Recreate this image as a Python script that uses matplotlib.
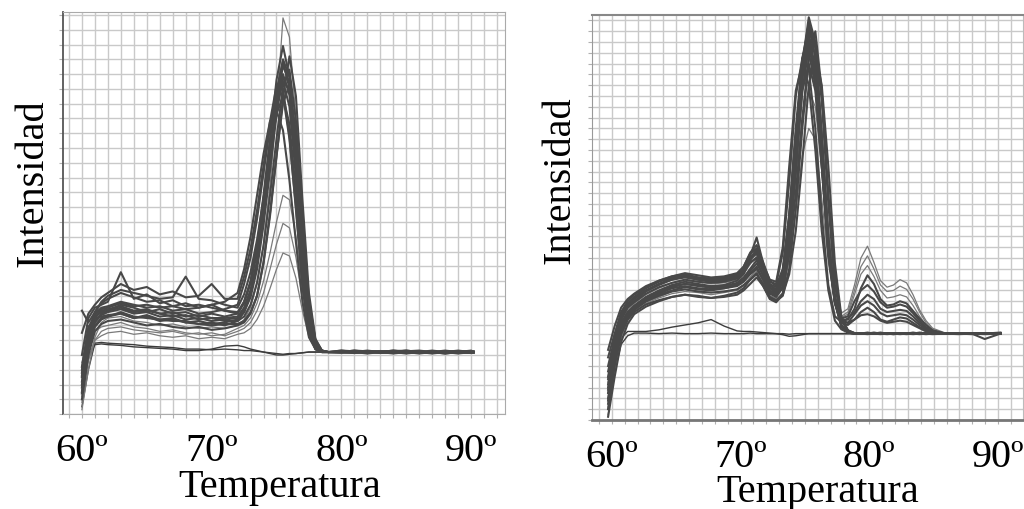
import matplotlib
matplotlib.use("Agg")
import matplotlib.pyplot as plt
from matplotlib.ticker import MultipleLocator, FixedLocator

plt.rcParams['font.family'] = ['Liberation Serif', 'DejaVu Serif']

# ---- left panel: temperatures (ºC) and curves (intensity, grid units) ----
temps_left = [60, 60.5, 61, 61.5, 62, 63, 64, 65, 66, 67, 68, 69, 70, 71,
              72, 72.5, 73, 73.5, 74, 74.5, 75, 75.5, 76, 76.5, 77, 77.5, 78, 78.5, 79,
              80, 81, 82, 83, 84, 85, 86, 87, 88, 89, 90, 90.2]

left_a = [1.5, 4.8, 6.2, 6.7, 6.9, 7.1, 6.8, 6.9, 6.6, 6.7, 6.4, 6.5, 6.3, 6.4,
          6.5, 7.1, 8.3, 10.3, 13.3, 16.9, 20.6, 23.0, 21.6, 17.0, 11.0, 6.8, 4.7, 4.25, 4.2,
          4.2, 4.25, 4.2, 4.15, 4.2, 4.2, 4.15, 4.2, 4.1, 4.2, 4.15, 4.2]
left_b = [3.0, 5.8, 6.8, 7.2, 7.3, 7.6, 7.4, 7.2, 7.3, 7.0, 7.1, 6.8, 6.9, 7.1,
          7.4, 8.8, 10.6, 13.2, 16.3, 19.4, 21.9, 21.6, 18.6, 14.0, 8.8, 5.6, 4.4, 4.2, 4.2,
          4.3, 4.2, 4.25, 4.2, 4.3, 4.2, 4.2, 4.1, 4.2, 4.25, 4.2, 4.15]
left_c = [0.3, 3.0, 5.2, 6.2, 6.5, 6.6, 6.3, 6.2, 6.0, 6.1, 5.9, 5.8, 5.9, 5.8,
          6.0, 6.4, 7.2, 8.8, 11.5, 15.5, 20.5, 26.8, 25.5, 20.0, 12.8, 7.2, 4.8, 4.3, 4.2,
          4.15, 4.2, 4.2, 4.3, 4.2, 4.1, 4.2, 4.2, 4.25, 4.15, 4.2, 4.2]
left_d = [2.2, 5.5, 6.9, 7.5, 7.8, 8.2, 7.9, 7.6, 7.7, 7.3, 7.5, 7.2, 7.4, 7.0,
          6.8, 7.5, 8.9, 11.2, 14.5, 18.5, 22.6, 24.9, 22.8, 17.5, 11.2, 6.6, 4.6, 4.25, 4.2,
          4.2, 4.3, 4.25, 4.2, 4.15, 4.25, 4.3, 4.2, 4.2, 4.1, 4.2, 4.25]
left_e = [4.0, 6.5, 7.2, 7.4, 7.6, 9.6, 7.8, 8.1, 7.5, 7.7, 7.3, 7.4, 7.2, 7.0,
          6.9, 7.6, 8.9, 10.9, 13.9, 17.6, 21.4, 24.0, 22.8, 18.0, 11.6, 7.0, 4.8, 4.3, 4.2,
          4.25, 4.2, 4.1, 4.2, 4.25, 4.2, 4.2, 4.3, 4.2, 4.2, 4.15, 4.2]
left_f = [1.0, 4.0, 5.6, 6.1, 6.3, 6.4, 6.2, 6.0, 6.1, 5.9, 5.8, 5.9, 5.7, 5.8,
          6.0, 6.2, 6.8, 8.0, 10.3, 13.6, 17.5, 21.0, 22.3, 19.0, 12.8, 7.6, 5.0, 4.3, 4.2,
          4.2, 4.15, 4.2, 4.25, 4.2, 4.2, 4.1, 4.2, 4.25, 4.2, 4.2, 4.15]
left_g = [7.0, 6.2, 6.9, 7.6, 8.0, 8.4, 8.2, 8.0, 7.8, 7.9, 9.3, 7.8, 7.7, 7.4,
          7.2, 8.1, 9.6, 11.8, 14.6, 17.6, 20.3, 21.5, 19.6, 15.0, 9.6, 6.0, 4.5, 4.2, 4.2,
          4.3, 4.25, 4.2, 4.2, 4.3, 4.25, 4.2, 4.2, 4.15, 4.2, 4.3, 4.2]
left_h = [2.5, 5.2, 6.5, 7.0, 7.1, 7.3, 7.0, 7.1, 6.8, 6.9, 6.6, 6.7, 6.5, 6.5,
          6.6, 7.2, 8.4, 10.3, 13.2, 16.8, 20.8, 23.6, 22.4, 17.6, 11.4, 6.9, 4.7, 4.25, 4.2,
          4.2, 4.2, 4.3, 4.2, 4.1, 4.2, 4.25, 4.15, 4.2, 4.2, 4.25, 4.2]
left_i = [1.8, 4.6, 6.0, 6.5, 6.6, 6.9, 6.6, 6.5, 6.4, 6.3, 6.3, 6.1, 6.2, 6.0,
          6.3, 6.9, 8.1, 10.2, 13.4, 17.2, 20.8, 22.5, 20.8, 16.0, 10.2, 6.3, 4.6, 4.2, 4.2,
          4.15, 4.2, 4.2, 4.2, 4.25, 4.3, 4.2, 4.2, 4.2, 4.3, 4.2, 4.2]
left_j = [0.8, 3.6, 5.0, 5.6, 5.8, 5.9, 5.7, 5.6, 5.5, 5.6, 5.4, 5.5, 5.3, 5.4,
          5.8, 6.0, 6.5, 7.5, 9.0, 10.9, 13.0, 14.8, 14.5, 12.0, 8.5, 5.8, 4.5, 4.2, 4.2,
          4.2, 4.2, 4.15, 4.2, 4.2, 4.15, 4.2, 4.25, 4.2, 4.15, 4.2, 4.2]
left_k = [3.5, 5.0, 5.6, 5.9, 6.0, 6.2, 5.9, 5.8, 5.6, 5.7, 5.5, 5.4, 5.5, 5.3,
          5.6, 5.8, 6.2, 7.0, 8.2, 9.8, 11.5, 12.9, 12.6, 10.6, 7.8, 5.5, 4.4, 4.2, 4.2,
          4.25, 4.2, 4.2, 4.3, 4.2, 4.2, 4.2, 4.1, 4.2, 4.2, 4.25, 4.2]
left_m = [1.2, 3.8, 5.0, 5.3, 5.5, 5.6, 5.4, 5.5, 5.3, 5.2, 5.3, 5.1, 5.2, 5.1,
          5.4, 5.5, 5.8, 6.4, 7.3, 8.5, 9.8, 10.9, 10.7, 9.2, 7.0, 5.2, 4.4, 4.2, 4.2,
          4.2, 4.1, 4.2, 4.2, 4.2, 4.25, 4.15, 4.2, 4.2, 4.2, 4.1, 4.2]
left_n = [5.5, 6.8, 7.4, 7.9, 8.2, 8.8, 8.4, 8.6, 8.1, 8.3, 7.9, 8.0, 8.8, 7.8,
          7.8, 9.3, 11.2, 13.8, 16.8, 19.8, 22.2, 22.0, 18.8, 13.8, 8.6, 5.5, 4.4, 4.2, 4.2,
          4.2, 4.3, 4.2, 4.2, 4.2, 4.1, 4.2, 4.2, 4.3, 4.2, 4.2, 4.25]
left_o = [2.8, 5.6, 6.6, 6.9, 7.0, 7.2, 6.9, 7.0, 6.8, 6.6, 6.7, 6.4, 6.5, 6.3,
          6.3, 6.6, 7.4, 8.9, 11.4, 14.8, 18.6, 22.2, 23.3, 19.8, 13.2, 7.8, 5.0, 4.3, 4.2,
          4.2, 4.2, 4.25, 4.15, 4.2, 4.3, 4.2, 4.2, 4.15, 4.2, 4.2, 4.2]
left_p = [2.0, 5.0, 6.3, 6.8, 7.0, 7.4, 7.2, 6.9, 7.1, 6.8, 6.9, 6.6, 6.8, 6.6,
          6.8, 7.6, 9.0, 11.4, 14.8, 18.6, 21.9, 23.9, 22.0, 16.8, 10.4, 6.4, 4.6, 4.2, 4.2,
          4.2, 4.2, 4.2, 4.25, 4.2, 4.15, 4.2, 4.2, 4.2, 4.25, 4.2, 4.2]
left_q = [3.2, 5.9, 6.5, 6.6, 6.7, 6.8, 6.5, 6.7, 6.4, 6.5, 6.2, 6.3, 6.1, 6.2,
          6.4, 6.9, 7.9, 9.8, 12.8, 16.5, 20.3, 22.8, 21.8, 17.4, 11.3, 6.9, 4.7, 4.25, 4.2,
          4.2, 4.15, 4.2, 4.2, 4.2, 4.2, 4.25, 4.2, 4.1, 4.2, 4.2, 4.2]
left_r = [2.6, 5.4, 6.7, 7.1, 7.2, 7.5, 7.3, 7.4, 7.2, 7.3, 7.1, 7.2, 7.4, 7.6,
          8.2, 9.8, 12.0, 14.8, 17.6, 19.8, 20.5, 19.2, 15.8, 11.6, 7.6, 5.2, 4.4, 4.2, 4.2,
          4.2, 4.2, 4.25, 4.2, 4.2, 4.2, 4.15, 4.2, 4.2, 4.2, 4.25, 4.2]
left_s = [1.4, 4.4, 5.9, 6.4, 6.6, 6.8, 6.5, 6.6, 6.3, 6.4, 6.2, 6.1, 6.0, 6.1,
          6.1, 6.3, 6.9, 8.0, 10.2, 13.4, 17.4, 21.4, 24.2, 21.5, 14.5, 8.2, 5.1, 4.3, 4.2,
          4.2, 4.2, 4.2, 4.15, 4.2, 4.25, 4.2, 4.2, 4.2, 4.15, 4.2, 4.2]
left_nc1 = [0.5, 3.0, 4.8, 4.85, 4.8, 4.75, 4.7, 4.6, 4.55, 4.5, 4.4, 4.4, 4.35, 4.4,
            4.35, 4.3, 4.3, 4.25, 4.2, 4.15, 4.1, 4.05, 4.1, 4.1, 4.15, 4.2, 4.2, 4.2, 4.2,
            4.2, 4.2, 4.2, 4.2, 4.2, 4.2, 4.2, 4.2, 4.2, 4.2, 4.2, 4.2]
left_nc2 = [1.5, 3.8, 4.7, 4.75, 4.7, 4.65, 4.55, 4.5, 4.45, 4.4, 4.3, 4.3, 4.4, 4.6,
            4.65, 4.55, 4.4, 4.3, 4.2, 4.1, 4.0, 4.0, 4.05, 4.1, 4.15, 4.2, 4.2, 4.2, 4.2,
            4.2, 4.2, 4.2, 4.2, 4.2, 4.2, 4.2, 4.2, 4.2, 4.2, 4.2, 4.2]

left_curves = [left_a, left_b, left_d, left_e, left_f, left_g, left_h, left_i,
               left_n, left_o, left_p, left_q, left_r, left_s]
left_faint = [left_c, left_j, left_k, left_m]
left_controls = [left_nc1, left_nc2]

# ---- right panel ----
temps_right = [59.71, 60.22, 60.72, 61.23, 61.74, 62.65, 63.66, 64.67, 65.68, 66.70, 67.71, 68.72,
               69.73, 70.24, 70.75, 71.25, 71.76, 72.27, 72.77,
               73.28, 73.78, 74.29, 74.80, 75.30, 75.81, 76.31, 76.82, 77.33, 77.83, 78.34,
               78.85, 79.35, 79.86, 80.36, 80.87, 81.38, 81.88, 82.39, 82.90, 83.40, 83.91,
               84.41, 84.92, 85.93, 86.95, 87.96, 88.97, 90.19]

right_1 = [1.5, 5.5, 8.2, 9.5, 10.2, 11.0, 11.6, 12.0, 12.3, 12.1, 12.0, 12.2, 12.5, 13.0, 13.8, 14.5, 13.4, 12.0, 11.7,
           12.8, 17.5, 25.0, 33.0, 37.3, 35.0, 26.0, 16.5, 11.0, 8.6, 8.1,
           8.0, 8.0, 8.1, 8.0, 8.0, 8.05, 8.0, 7.95, 8.0, 8.0, 8.1, 8.0, 8.0, 8.0, 8.05, 8.0, 7.95, 8.0]
right_2 = [3.0, 6.5, 9.0, 10.0, 10.6, 11.4, 12.0, 12.5, 12.8, 12.6, 12.4, 12.5, 12.9, 13.5, 14.8, 15.6, 14.0, 12.2, 11.8,
           13.2, 18.3, 26.0, 33.5, 36.5, 33.5, 25.0, 16.0, 11.0, 9.2, 9.0,
           9.3, 10.0, 10.4, 10.0, 9.3, 9.1, 9.3, 9.5, 9.4, 9.0, 8.6, 8.3, 8.1, 8.0, 8.0, 8.0, 8.0, 8.05]
right_3 = [0.5, 4.5, 7.6, 9.2, 10.0, 10.8, 11.3, 11.7, 11.9, 11.8, 11.6, 11.8, 12.0, 12.4, 13.2, 14.0, 12.8, 11.5, 11.3,
           12.3, 16.7, 23.5, 31.0, 35.5, 34.0, 27.0, 18.0, 12.3, 9.9, 10.3,
           12.5, 15.0, 16.1, 14.6, 12.9, 12.3, 12.5, 13.0, 12.7, 11.6, 10.2, 9.2, 8.5, 8.05, 8.0, 8.0, 7.95, 8.0]
right_4 = [2.5, 6.0, 8.6, 9.8, 10.4, 11.2, 11.8, 12.4, 12.6, 12.5, 12.2, 12.3, 12.6, 13.0, 13.6, 14.2, 13.0, 11.8, 11.5,
           12.2, 15.3, 21.0, 28.0, 33.5, 35.0, 29.5, 20.0, 12.5, 9.2, 8.3,
           8.05, 8.0, 8.0, 8.1, 8.0, 8.0, 7.95, 8.0, 8.05, 8.0, 8.0, 8.0, 8.1, 8.0, 8.0, 8.0, 8.0, 8.05]
right_5 = [4.5, 7.2, 9.4, 10.5, 11.0, 11.9, 12.5, 13.0, 13.3, 13.0, 12.8, 12.9, 13.2, 13.8, 15.2, 16.9, 14.5, 12.5, 12.0,
           13.5, 19.0, 26.5, 32.5, 34.0, 31.0, 23.5, 15.3, 10.8, 9.2, 9.3,
           10.3, 12.2, 13.4, 12.6, 11.2, 10.6, 10.7, 11.0, 10.8, 10.1, 9.4, 8.8, 8.3, 8.0, 8.0, 8.0, 8.0, 8.0]
right_6 = [5.8, 8.0, 10.0, 11.0, 11.6, 12.3, 12.9, 13.3, 13.5, 13.2, 13.0, 13.1, 13.4, 14.0, 15.0, 15.8, 14.3, 12.8, 12.6,
           15.5, 22.0, 30.0, 33.5, 32.5, 27.0, 19.0, 12.5, 9.6, 9.1, 9.4,
           10.0, 11.0, 11.6, 11.2, 10.3, 10.0, 10.1, 10.2, 10.1, 9.6, 9.0, 8.5, 8.2, 8.0, 8.0, 7.95, 8.0, 8.0]
right_7 = [1.0, 5.0, 7.9, 9.3, 10.0, 10.7, 11.1, 11.4, 11.6, 11.5, 11.3, 11.4, 11.6, 12.0, 12.6, 13.2, 12.4, 11.3, 11.0,
           11.5, 14.0, 19.5, 27.0, 33.5, 36.0, 30.5, 21.0, 13.5, 9.4, 8.3,
           8.0, 8.05, 8.0, 8.0, 7.95, 8.0, 8.0, 8.05, 8.0, 8.0, 8.0, 7.95, 8.0, 8.0, 8.05, 8.0, 8.0, 8.0]
right_8 = [3.5, 6.8, 9.2, 10.2, 10.8, 11.6, 12.2, 12.7, 12.9, 12.8, 12.6, 12.7, 13.0, 13.6, 14.4, 15.2, 13.6, 12.0, 11.6,
           12.5, 16.5, 22.5, 28.0, 30.5, 29.0, 23.0, 16.0, 11.5, 9.6, 10.0,
           12.0, 14.2, 15.2, 14.0, 12.5, 11.9, 12.0, 12.4, 12.1, 11.2, 10.0, 9.0, 8.4, 8.0, 8.0, 8.0, 8.0, 8.0]
right_9 = [2.0, 5.8, 8.4, 9.6, 10.3, 11.1, 11.7, 12.2, 12.4, 12.2, 12.1, 12.2, 12.4, 12.8, 13.5, 14.0, 13.0, 11.7, 11.4,
           12.4, 16.5, 23.0, 30.5, 34.5, 32.5, 25.0, 16.5, 11.3, 9.2, 9.0,
           9.8, 10.6, 11.0, 10.6, 9.9, 9.6, 9.7, 9.8, 9.7, 9.3, 8.8, 8.4, 8.15, 8.0, 8.0, 8.0, 8.0, 8.0]
right_10 = [6.5, 8.7, 10.4, 11.2, 11.7, 12.4, 12.9, 13.3, 13.6, 13.4, 13.2, 13.3, 13.6, 14.2, 15.5, 16.2, 14.6, 12.9, 12.4,
            14.0, 19.0, 27.0, 33.5, 35.8, 32.5, 24.0, 15.5, 10.8, 8.7, 8.1,
            8.05, 8.0, 8.0, 8.0, 8.1, 8.0, 8.0, 8.0, 7.95, 8.0, 8.0, 8.0, 8.0, 8.05, 8.0, 8.0, 7.5, 8.0]
right_11 = [1.2, 5.2, 8.0, 9.4, 10.1, 10.9, 11.4, 11.9, 12.1, 11.9, 11.8, 11.9, 12.1, 12.5, 13.2, 13.8, 12.7, 11.5, 11.2,
            11.8, 14.8, 19.5, 24.5, 27.0, 26.0, 20.5, 14.5, 11.0, 9.5, 9.8,
            11.6, 13.5, 14.3, 13.3, 12.0, 11.3, 11.4, 11.6, 11.4, 10.6, 9.6, 8.8, 8.3, 8.0, 8.0, 8.0, 8.0, 8.0]
right_12 = [3.8, 7.0, 9.3, 10.4, 10.9, 11.7, 12.3, 12.7, 13.0, 12.8, 12.7, 12.8, 13.1, 13.6, 14.6, 15.0, 13.8, 12.3, 11.9,
            13.2, 18.0, 25.5, 33.0, 36.8, 34.5, 25.8, 16.5, 11.0, 8.7, 8.1,
            8.0, 8.0, 7.95, 8.0, 8.0, 8.0, 8.05, 8.0, 8.0, 8.1, 8.0, 8.0, 7.95, 8.0, 8.0, 8.0, 8.0, 8.05]
right_13 = [2.8, 6.2, 8.8, 9.9, 10.5, 11.3, 11.9, 12.3, 12.6, 12.4, 12.3, 12.4, 12.7, 13.2, 14.0, 14.8, 13.3, 11.9, 11.6,
            12.8, 17.3, 24.0, 30.5, 33.0, 30.5, 23.5, 15.5, 11.0, 9.4, 9.6,
            11.0, 12.0, 12.5, 11.9, 10.9, 10.4, 10.5, 10.7, 10.5, 9.9, 9.2, 8.6, 8.25, 8.0, 8.0, 8.0, 8.05, 8.0]
right_14 = [5.0, 7.6, 9.7, 10.7, 11.3, 12.0, 12.6, 13.1, 13.3, 13.1, 12.9, 13.0, 13.3, 13.9, 14.9, 15.4, 14.0, 12.5, 12.1,
            13.6, 18.5, 26.0, 33.0, 35.2, 32.0, 24.5, 16.0, 11.0, 9.0, 8.8,
            9.3, 9.7, 9.8, 9.6, 9.2, 9.0, 9.1, 9.2, 9.1, 8.8, 8.5, 8.2, 8.05, 8.0, 8.0, 8.0, 8.0, 8.0]
right_15 = [0.3, 4.0, 7.2, 8.9, 9.8, 10.5, 11.0, 11.4, 11.6, 11.4, 11.3, 11.5, 11.8, 12.2, 13.0, 13.6, 12.4, 11.2, 10.9,
            11.7, 15.8, 23.0, 31.5, 36.2, 34.5, 26.5, 17.0, 11.5, 8.8, 8.1,
            8.0, 8.0, 8.0, 8.05, 8.0, 7.95, 8.0, 8.0, 8.0, 8.0, 8.05, 8.0, 8.0, 8.0, 7.95, 8.0, 8.0, 8.1]
right_16 = [4.0, 7.4, 9.8, 10.8, 11.4, 12.2, 12.8, 13.2, 13.4, 13.2, 13.1, 13.2, 13.5, 14.0, 14.6, 15.0, 13.9, 12.6, 12.3,
            13.8, 18.7, 26.2, 32.5, 34.8, 31.5, 24.0, 15.6, 10.9, 8.8, 8.2,
            8.05, 8.0, 8.0, 8.0, 8.0, 8.05, 8.0, 8.0, 8.0, 8.0, 7.95, 8.0, 8.0, 8.0, 8.0, 8.05, 8.0, 8.0]
right_17 = [3.3, 6.9, 9.5, 10.6, 11.2, 12.0, 12.6, 13.0, 13.2, 13.0, 12.9, 13.0, 13.4, 14.2, 15.4, 15.9, 14.4, 13.0, 12.8,
            16.0, 23.5, 30.5, 33.0, 31.0, 25.0, 17.5, 12.0, 9.2, 8.4, 8.1,
            8.0, 8.0, 8.05, 8.0, 8.0, 8.0, 7.95, 8.0, 8.0, 8.0, 8.0, 8.05, 8.0, 8.0, 8.0, 8.0, 8.0, 8.0]
right_18 = [1.8, 5.6, 8.3, 9.6, 10.3, 11.0, 11.5, 11.9, 12.1, 11.9, 11.8, 11.9, 12.1, 12.5, 13.0, 13.5, 12.6, 11.4, 11.1,
            11.6, 13.5, 17.5, 24.0, 31.0, 34.0, 31.0, 23.5, 14.5, 9.6, 8.3,
            8.05, 8.0, 8.0, 8.0, 8.05, 8.0, 8.0, 8.0, 8.0, 7.95, 8.0, 8.0, 8.0, 8.0, 8.0, 8.05, 8.0, 8.0]
right_nc1 = [1.0, 4.5, 7.0, 7.8, 8.05, 8.05, 8.0, 8.05, 8.0, 8.0, 8.05, 8.0, 8.0, 8.0, 8.05, 8.0, 8.0, 8.0, 8.0,
             8.0, 7.95, 8.0, 8.0, 8.0, 8.0, 8.0, 8.0, 8.0, 8.0, 8.0,
             8.0, 8.0, 8.0, 8.0, 8.0, 8.0, 8.0, 8.0, 8.0, 8.0, 8.0, 8.0, 8.0, 8.0, 8.0, 8.0, 8.0, 8.0]
right_nc2 = [2.5, 5.5, 7.6, 8.2, 8.2, 8.2, 8.35, 8.6, 8.8, 9.0, 9.3, 8.7, 8.25, 8.2, 8.2, 8.15, 8.1, 8.05, 8.0,
             7.9, 7.75, 7.8, 7.9, 8.0, 8.0, 8.0, 8.0, 8.0, 8.0, 8.0,
             8.0, 8.0, 8.0, 8.0, 8.0, 8.0, 8.0, 8.0, 8.0, 8.0, 8.0, 8.0, 8.0, 8.0, 8.0, 8.0, 8.0, 8.0]

right_curves = [right_1, right_2, right_4, right_5, right_6, right_7, right_9,
                right_10, right_12, right_13, right_14, right_15, right_16,
                right_17, right_18]
right_faint = [right_3, right_8, right_11]
right_controls = [right_nc1, right_nc2]

x_ticks = [60, 70, 80, 90]
x_labels = ['60º', '70º', '80º', '90º']

fig = plt.figure(figsize=(10.24, 5.10), dpi=100)
ax1 = fig.add_axes([0.0615, 0.186, 0.4316, 0.7885])
ax2 = fig.add_axes([0.578, 0.1745, 0.421, 0.794])


def style(ax, xlim, ylim):
    ax.set_xlim(*xlim)
    ax.set_ylim(*ylim)
    ax.xaxis.set_major_locator(FixedLocator(x_ticks))
    ax.set_xticklabels(x_labels, fontsize=29)
    ax.xaxis.set_minor_locator(MultipleLocator(1))
    ax.yaxis.set_major_locator(MultipleLocator(1))
    ax.set_yticklabels([])
    ax.grid(True, which='both', color='#c9c9c9', linewidth=1.0)
    ax.set_axisbelow(True)
    ax.tick_params(which='both', direction='out', length=3, color='#b0b0b0', width=0.8)
    ax.tick_params(axis='x', which='major', pad=10)
    ax.set_xlabel('Temperatura', fontsize=29)
    ax.set_ylabel('Intensidad', fontsize=29)


for ax, temps, curves, faint, controls in [
        (ax1, temps_left, left_curves, left_faint, left_controls),
        (ax2, temps_right, right_curves, right_faint, right_controls)]:
    for c in controls:
        ax.plot(temps, c, color='#3c3c3c', linewidth=1.0)
    for c in faint:
        ax.plot(temps, c, color='#7a7a7a', linewidth=0.9)
    for c in curves:
        ax.plot(temps, c, color='#484848', linewidth=1.5)

style(ax1, (58.54, 92.61), (0, 27.2))
style(ax2, (58.45, 91.94), (0, 37.5))

ax1.xaxis.set_label_coords(0.491, -0.135)
ax1.yaxis.set_label_coords(-0.027, 0.577)
ax2.xaxis.set_label_coords(0.524, -0.13)
ax2.yaxis.set_label_coords(-0.030, 0.595)

ax1.spines['left'].set_color('#555555')
ax1.spines['left'].set_linewidth(1.3)
for s in ['top', 'right', 'bottom']:
    ax1.spines[s].set_color('#aaaaaa')
ax2.spines['left'].set_color('#999999')
ax2.spines['top'].set_color('#888888')
ax2.spines['top'].set_linewidth(1.5)
ax2.spines['bottom'].set_color('#777777')
ax2.spines['bottom'].set_linewidth(2.0)
ax2.spines['right'].set_color('#bbbbbb')

fig.savefig('out.png', dpi=100)
